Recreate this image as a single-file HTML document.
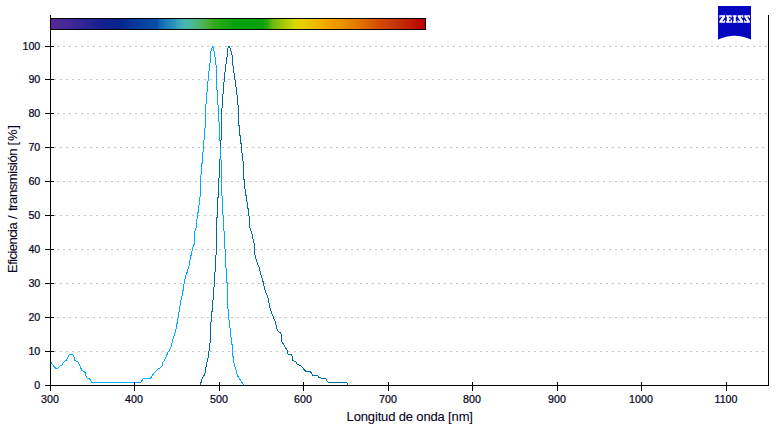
<!DOCTYPE html>
<html><head><meta charset="utf-8"><title>Spectra</title>
<style>
html,body{margin:0;padding:0;background:#fff;}
body{width:783px;height:426px;overflow:hidden;font-family:"Liberation Sans",sans-serif;}
svg{display:block;}
text{font-family:"Liberation Sans",sans-serif;font-size:12px;fill:#050220;}
text.tk{font-size:10.7px;stroke:#050220;stroke-width:0.22px;}
text.tt{font-size:13px;stroke:#050220;stroke-width:0.08px;}
</style></head><body>
<svg width="783" height="426" viewBox="0 0 783 426">
<defs><linearGradient id="sp" x1="0" y1="0" x2="1" y2="0"><stop offset="0.00%" stop-color="#56289b"/><stop offset="3.74%" stop-color="#462897"/><stop offset="7.75%" stop-color="#332695"/><stop offset="12.83%" stop-color="#172290"/><stop offset="17.91%" stop-color="#07248c"/><stop offset="22.46%" stop-color="#05389a"/><stop offset="26.47%" stop-color="#0647a6"/><stop offset="28.34%" stop-color="#0a4ea9"/><stop offset="29.41%" stop-color="#126ab2"/><stop offset="30.75%" stop-color="#197db9"/><stop offset="32.62%" stop-color="#288eb9"/><stop offset="34.22%" stop-color="#3ca5b9"/><stop offset="35.83%" stop-color="#4eb4ae"/><stop offset="37.17%" stop-color="#4bb9a0"/><stop offset="39.04%" stop-color="#50b878"/><stop offset="40.11%" stop-color="#50b45a"/><stop offset="42.51%" stop-color="#41af2d"/><stop offset="44.65%" stop-color="#28a80f"/><stop offset="49.20%" stop-color="#08a10a"/><stop offset="56.42%" stop-color="#06a008"/><stop offset="58.02%" stop-color="#30aa0c"/><stop offset="59.09%" stop-color="#60b810"/><stop offset="61.50%" stop-color="#98c408"/><stop offset="64.97%" stop-color="#d4d800"/><stop offset="66.58%" stop-color="#e6d200"/><stop offset="71.66%" stop-color="#eeb400"/><stop offset="74.87%" stop-color="#f0a000"/><stop offset="78.61%" stop-color="#ea8c00"/><stop offset="82.62%" stop-color="#e17300"/><stop offset="87.97%" stop-color="#d24b00"/><stop offset="93.58%" stop-color="#c32d00"/><stop offset="98.93%" stop-color="#be0500"/><stop offset="100.00%" stop-color="#ba0000"/></linearGradient></defs>
<rect width="783" height="426" fill="#ffffff"/>

<g stroke="#c4c4c4" stroke-width="1" stroke-dasharray="2 4" shape-rendering="crispEdges">
<line x1="54" y1="351.5" x2="768" y2="351.5"/>
<line x1="57" y1="317.5" x2="768" y2="317.5"/>
<line x1="54" y1="283.5" x2="768" y2="283.5"/>
<line x1="57" y1="249.5" x2="768" y2="249.5"/>
<line x1="54" y1="215.5" x2="768" y2="215.5"/>
<line x1="57" y1="181.5" x2="768" y2="181.5"/>
<line x1="54" y1="147.5" x2="768" y2="147.5"/>
<line x1="57" y1="113.5" x2="768" y2="113.5"/>
<line x1="54" y1="79.5" x2="768" y2="79.5"/>
<line x1="57" y1="46.5" x2="768" y2="46.5"/>
</g>
<rect x="51" y="18" width="375" height="12" fill="#000"/>
<rect x="51" y="19" width="374" height="10" fill="url(#sp)"/>
<polyline points="200.6,384.6 201.5,380.1 203.5,376.5 205.2,373.0 205.5,368.8 206.5,365.3 207.5,358.9 208.3,357.5 208.5,352.0 209.4,350.5 209.5,343.8 210.4,342.3 210.4,323.2 211.4,321.5 211.6,312.4 212.4,310.8 212.6,300.8 213.6,299.1 213.5,287.8 214.5,286.5 214.5,272.8 215.5,271.5 215.5,255.7 216.5,254.1 216.5,218.1 217.4,217.3 217.4,198.2 218.4,197.4 218.4,178.3 219.4,177.4 219.4,159.8 220.3,158.9 220.4,140.7 221.4,139.8 221.4,108.3 222.5,107.5 222.5,94.5 223.5,93.5 223.5,82.5 224.5,81.5 224.5,72.5 225.5,71.5 225.5,64.5 226.5,63.5 226.5,57.5 227.5,56.5 227.5,48.5 228.5,47.5 228.5,47.0 229.5,46.5 229.5,47.5 230.5,48.5 230.5,50.5 231.5,51.5 231.5,54.5 232.5,55.5 232.5,65.5 233.5,66.5 233.5,72.5 234.5,73.5 234.5,79.5 235.5,80.5 235.5,86.5 236.5,87.5 236.5,94.5 237.5,95.5 237.5,104.5 238.5,105.5 238.4,124.9 239.4,125.7 239.5,134.9 240.4,135.7 240.5,143.2 241.4,144.0 241.5,152.3 242.4,153.1 242.5,160.6 243.3,161.4 243.5,179.1 244.3,179.9 244.5,188.2 245.3,189.1 245.5,194.9 246.3,195.7 246.5,201.5 247.3,202.3 247.5,208.1 248.3,209.0 248.5,215.6 249.3,216.5 249.5,226.0 250.5,230.0 251.6,231.7 252.5,236.6 253.5,240.8 254.5,245.8 254.6,254.1 255.5,256.6 256.5,260.7 257.5,263.2 258.5,266.5 259.5,268.2 260.4,273.2 261.4,276.5 262.4,279.0 263.4,283.1 264.4,287.3 265.4,291.0 265.7,292.5 267.5,295.8 268.5,300.8 269.5,305.8 270.9,310.8 272.5,314.9 274.5,319.9 275.7,323.2 276.7,328.2 278.2,331.5 280.7,333.2 281.5,335.7 281.8,341.4 287.7,351.3 288.1,354.2 291.0,354.6 292.5,357.0 293.0,360.8 295.5,361.5 297.6,364.7 300.4,365.2 302.8,368.0 305.3,371.0 310.2,371.5 312.7,375.1 317.6,375.4 319.3,377.9 325.8,378.4 327.8,382.1 346.4,382.1 348.0,384.9" fill="none" stroke="#0068a6" stroke-width="1" stroke-linejoin="bevel" shape-rendering="crispEdges"/>
<polyline points="51.1,362.4 53.3,365.7 55.8,368.2 58.0,368.2 60.3,365.4 62.1,364.9 64.1,361.5 66.3,360.4 69.1,354.9 71.6,354.4 73.6,355.2 74.9,360.7 77.9,361.9 79.9,365.7 81.9,370.7 84.8,371.8 86.5,377.8 89.5,378.6 91.8,382.3 141.0,382.3 143.3,378.5 150.4,378.5 152.1,375.7 154.6,372.3 155.9,371.0 158.2,368.7 160.4,367.9 162.6,364.9 162.9,362.4 165.4,358.6 167.9,352.4 170.3,348.9 171.6,344.8 172.9,339.0 174.4,334.8 175.6,330.7 176.6,325.7 177.7,319.9 178.6,314.1 179.6,308.3 180.5,302.5 181.5,298.3 182.5,293.3 183.4,288.5 184.1,283.1 184.9,279.8 186.1,274.8 187.1,272.3 188.2,268.2 189.2,265.7 190.2,258.2 191.2,254.9 192.4,249.1 193.2,245.8 194.2,244.1 194.4,233.3 195.4,230.0 196.4,226.0 196.4,219.8 197.2,218.9 197.4,213.1 198.2,212.3 198.5,205.7 199.3,204.8 199.5,197.4 200.3,196.5 200.5,175.8 201.3,174.9 201.5,164.2 202.3,163.1 202.5,152.8 203.3,151.5 203.5,140.7 204.3,139.8 204.5,128.2 205.5,127.4 205.5,104.5 206.5,103.5 206.5,92.5 207.5,91.5 207.5,81.5 208.5,80.5 208.5,71.5 209.5,70.5 209.5,63.5 210.5,62.5 210.5,51.5 211.5,50.5 211.5,48.5 212.5,47.5 212.5,46.5 213.5,48.5 213.5,50.5 214.5,51.5 214.5,56.5 215.5,57.5 215.5,64.5 216.5,65.5 216.5,89.5 217.5,90.5 217.5,104.5 218.5,105.5 218.4,121.6 219.4,122.4 219.4,139.8 220.3,140.7 220.4,158.9 221.1,159.8 221.4,195.7 222.4,196.5 222.6,214.8 223.4,215.6 223.6,230.0 224.6,233.3 224.8,248.3 225.6,250.8 225.7,267.4 226.7,269.0 226.9,282.3 227.6,284.0 227.5,308.3 228.4,309.9 228.5,319.1 229.5,320.7 229.7,327.4 230.5,329.0 230.7,336.5 231.5,338.1 231.8,344.2 232.7,345.6 232.8,356.1 233.7,358.2 233.8,362.5 234.8,363.9 235.1,368.1 235.9,369.5 236.5,373.0 237.9,376.5 240.0,379.4 241.8,382.2 243.7,384.6" fill="none" stroke="#00aaff" stroke-width="1" stroke-linejoin="bevel" shape-rendering="crispEdges"/>
<line x1="220.5" y1="140" x2="220.5" y2="147.5" stroke="#0068a6" stroke-width="1" shape-rendering="crispEdges"/>
<g stroke="#000" stroke-width="1" shape-rendering="crispEdges">
<line x1="50.5" y1="15" x2="50.5" y2="391"/>
<line x1="768.5" y1="15" x2="768.5" y2="386"/>
<line x1="50" y1="385.5" x2="769" y2="385.5"/>
<line x1="45" y1="385.5" x2="54" y2="385.5"/>
<line x1="45" y1="351.5" x2="54" y2="351.5"/>
<line x1="45" y1="317.5" x2="54" y2="317.5"/>
<line x1="45" y1="283.5" x2="54" y2="283.5"/>
<line x1="45" y1="249.5" x2="54" y2="249.5"/>
<line x1="45" y1="215.5" x2="54" y2="215.5"/>
<line x1="45" y1="181.5" x2="54" y2="181.5"/>
<line x1="45" y1="147.5" x2="54" y2="147.5"/>
<line x1="45" y1="113.5" x2="54" y2="113.5"/>
<line x1="45" y1="79.5" x2="54" y2="79.5"/>
<line x1="45" y1="46.5" x2="54" y2="46.5"/>
<line x1="50.5" y1="382" x2="50.5" y2="391"/>
<line x1="134.5" y1="382" x2="134.5" y2="391"/>
<line x1="219.5" y1="382" x2="219.5" y2="391"/>
<line x1="303.5" y1="382" x2="303.5" y2="391"/>
<line x1="388.5" y1="382" x2="388.5" y2="391"/>
<line x1="472.5" y1="382" x2="472.5" y2="391"/>
<line x1="557.5" y1="382" x2="557.5" y2="391"/>
<line x1="641.5" y1="382" x2="641.5" y2="391"/>
<line x1="726.5" y1="382" x2="726.5" y2="391"/>
</g>
<text class="tk" x="40.3" y="389.3" text-anchor="end">0</text>
<text class="tk" x="40.3" y="355.3" text-anchor="end">10</text>
<text class="tk" x="40.3" y="321.3" text-anchor="end">20</text>
<text class="tk" x="40.3" y="287.3" text-anchor="end">30</text>
<text class="tk" x="40.3" y="253.3" text-anchor="end">40</text>
<text class="tk" x="40.3" y="219.3" text-anchor="end">50</text>
<text class="tk" x="40.3" y="185.3" text-anchor="end">60</text>
<text class="tk" x="40.3" y="151.3" text-anchor="end">70</text>
<text class="tk" x="40.3" y="117.3" text-anchor="end">80</text>
<text class="tk" x="40.3" y="83.3" text-anchor="end">90</text>
<text class="tk" x="40.3" y="50.3" text-anchor="end">100</text>
<text class="tk" x="50.0" y="403" text-anchor="middle">300</text>
<text class="tk" x="134.0" y="403" text-anchor="middle">400</text>
<text class="tk" x="219.0" y="403" text-anchor="middle">500</text>
<text class="tk" x="303.0" y="403" text-anchor="middle">600</text>
<text class="tk" x="388.0" y="403" text-anchor="middle">700</text>
<text class="tk" x="472.0" y="403" text-anchor="middle">800</text>
<text class="tk" x="557.0" y="403" text-anchor="middle">900</text>
<text class="tk" x="641.0" y="403" text-anchor="middle">1000</text>
<text class="tk" x="726.0" y="403" text-anchor="middle">1100</text>
<text class="tt" x="409.7" y="421" text-anchor="middle" style="letter-spacing:-0.15px">Longitud de onda [nm]</text>
<g transform="translate(16.5,272) rotate(-90)"><text class="tt" x="-0.9" y="0" textLength="50.6" lengthAdjust="spacing">Eficiencia</text><text class="tt" x="53.0" y="0">/</text><text class="tt" x="60.9" y="0" textLength="62.6" lengthAdjust="spacing">transmisión</text><text class="tt" x="126.6" y="0" textLength="20.4" lengthAdjust="spacing">[%]</text></g>
<g>
<path d="M718,6 H751 V39.6 Q734.5,32 718,39.6 Z" fill="#0505c0"/>
<path d="M719.4,15.15 H725.1999999999999 V16.65 L722.30,21.25 H724.20 V19.95 H725.20 V22.75 H719.4 V21.25 L722.30,16.65 H720.40 V17.95 H719.4 Z M726.1,15.15 H731.70 V17.85 H730.80 V16.65 H728.90 V18.35 H729.70 V17.75 H730.40 V20.25 H729.70 V19.65 H728.90 V21.25 H731.00 V19.85 H731.90 V22.75 H726.1 V21.25 H726.80 V16.65 H726.1 Z M732.7,15.15 H736.70 V16.65 H735.80 V21.25 H736.70 V22.75 H732.7 V21.25 H733.60 V16.65 H732.7 Z M737.70,15.15 H743.30 V17.95 H742.30 V16.65 H740.40 L743.30,21.25 V22.75 H737.50 V19.95 H738.50 V21.25 H740.40 L737.70,16.65 Z M744.30,15.15 H749.90 V17.95 H748.90 V16.65 H747.00 L749.90,21.25 V22.75 H744.10 V19.95 H745.10 V21.25 H747.00 L744.30,16.65 Z" fill="#ffffff"/>
</g>
</svg></body></html>
